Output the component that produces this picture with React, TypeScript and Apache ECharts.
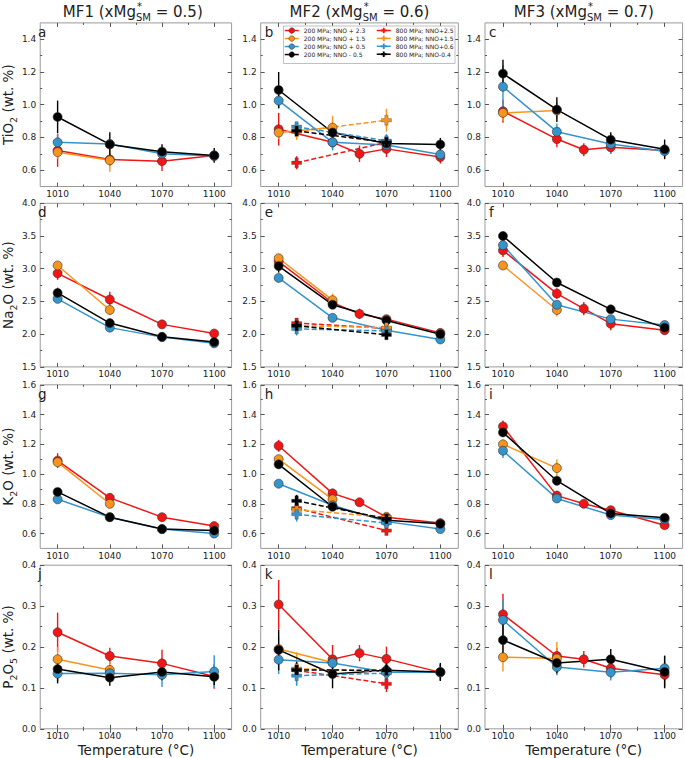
import React, { useEffect, useRef } from 'react';
import * as echarts from 'echarts';

// ---------- axis ticks / labels ----------
const TEMP_MAJOR = [1010, 1040, 1070, 1100];
const TEMP_MINOR = [1025, 1055, 1085];
const TEMP_MIN = 1000;
const TEMP_MAX = 1110;

const ROW_RANGES = [[0.5, 1.5], [1.5, 4.0], [0.5, 1.6], [0.0, 0.4]];
const ROW_MAJOR = [
  [0.6, 0.8, 1.0, 1.2, 1.4],
  [1.5, 2.0, 2.5, 3.0, 3.5, 4.0],
  [0.6, 0.8, 1.0, 1.2, 1.4, 1.6],
  [0.0, 0.1, 0.2, 0.3, 0.4],
];
const ROW_MINOR = [
  [0.7, 0.9, 1.1, 1.3],
  [1.75, 2.25, 2.75, 3.25, 3.75],
  [0.7, 0.9, 1.1, 1.3, 1.5],
  [0.05, 0.15, 0.25, 0.35],
];
const ROW_NAMES = [
  '{m|TiO}{s|2}{m| (wt. %)}',
  '{m|Na}{s|2}{m|O (wt. %)}',
  '{m|K}{s|2}{m|O (wt. %)}',
  '{m|P}{s|2}{m|O}{s|5}{m| (wt. %)}',
];
const COLUMN_TITLES = [
  ['MF1', '0.5'],
  ['MF2', '0.6'],
  ['MF3', '0.7'],
];
const PANEL_LETTERS = ['a', 'b', 'c', 'd', 'e', 'f', 'g', 'h', 'i', 'j', 'k', 'l'];

const NAMES_200 = ['200 MPa; NNO + 2.3', '200 MPa; NNO + 1.5', '200 MPa; NNO + 0.5', '200 MPa; NNO - 0.5'];
const NAMES_800 = ['800 MPa; NNO+2.5', '800 MPa; NNO+1.5', '800 MPa; NNO+0.6', '800 MPa; NNO-0.4'];
const COLORS = ['#f01616', '#f7941d', '#3594cc', '#000000'];

// ---------- data: [temperature, value, error] ----------
// TiO2
const a_red = [[1010, 0.72, 0.1], [1040, 0.665, 0.04], [1070, 0.655, 0.06], [1100, 0.69, 0.03]];
const a_orange = [[1010, 0.71, 0.04], [1040, 0.66, 0.07]];
const a_blue = [[1010, 0.77, 0.05], [1040, 0.76, 0.03], [1070, 0.7, 0.03], [1100, 0.686, 0.03]];
const a_black = [[1010, 0.925, 0.1], [1040, 0.757, 0.075], [1070, 0.713, 0.045], [1100, 0.69, 0.045]];

const b_red = [[1010, 0.85, 0.1], [1040, 0.77, 0.04], [1055, 0.7, 0.05], [1070, 0.73, 0.05], [1100, 0.68, 0.04]];
const b_orange = [[1010, 0.83, 0.04], [1040, 0.86, 0.07]];
const b_blue = [[1010, 1.025, 0.05], [1040, 0.77, 0.05], [1070, 0.753, 0.04], [1100, 0.696, 0.04]];
const b_black = [[1010, 1.09, 0.11], [1040, 0.83, 0.04], [1070, 0.763, 0.04], [1100, 0.757, 0.04]];
const b_red800 = [[1020, 0.645, 0.04], [1070, 0.77, 0.04]];
const b_orange800 = [[1020, 0.835, 0.05], [1070, 0.905, 0.07]];
const b_blue800 = [[1020, 0.865, 0.03], [1070, 0.78, 0.04]];
const b_black800 = [[1020, 0.84, 0.03], [1070, 0.77, 0.03]];

const c_red = [[1010, 0.96, 0.07], [1040, 0.79, 0.05], [1055, 0.725, 0.04], [1070, 0.74, 0.04], [1100, 0.72, 0.03]];
const c_orange = [[1010, 0.95, 0.05], [1040, 0.965, 0.05]];
const c_blue = [[1010, 1.11, 0.13], [1040, 0.835, 0.05], [1070, 0.76, 0.06], [1100, 0.716, 0.04]];
const c_black = [[1010, 1.19, 0.085], [1040, 0.97, 0.075], [1070, 0.786, 0.045], [1100, 0.727, 0.06]];

// Na2O
const d_red = [[1010, 2.93, 0.1], [1040, 2.53, 0.12], [1070, 2.15, 0.04], [1100, 2.01, 0.05]];
const d_orange = [[1010, 3.05, 0.05], [1040, 2.37, 0.08]];
const d_blue = [[1010, 2.54, 0.04], [1040, 2.1, 0.04], [1070, 1.955, 0.03], [1100, 1.86, 0.04]];
const d_black = [[1010, 2.63, 0.08], [1040, 2.17, 0.05], [1070, 1.96, 0.04], [1100, 1.88, 0.04]];

const e_red = [[1010, 3.11, 0.07], [1040, 2.48, 0.06], [1055, 2.31, 0.08], [1070, 2.23, 0.06], [1100, 2.02, 0.06]];
const e_orange = [[1010, 3.16, 0.05], [1040, 2.52, 0.1]];
const e_blue = [[1010, 2.86, 0.05], [1040, 2.25, 0.04], [1070, 2.06, 0.04], [1100, 1.92, 0.04]];
const e_black = [[1010, 3.04, 0.1], [1040, 2.45, 0.04], [1070, 2.21, 0.05], [1100, 2.0, 0.04]];
const e_red800 = [[1020, 2.17, 0.07], [1070, 2.09, 0.05]];
const e_orange800 = [[1020, 2.13, 0.05], [1070, 2.1, 0.05]];
const e_blue800 = [[1020, 2.08, 0.1], [1070, 2.05, 0.05]];
const e_black800 = [[1020, 2.13, 0.05], [1070, 1.99, 0.06]];

const f_red = [[1010, 3.28, 0.1], [1040, 2.62, 0.08], [1055, 2.39, 0.1], [1070, 2.16, 0.1], [1100, 2.06, 0.04]];
const f_orange = [[1010, 3.05, 0.05], [1040, 2.37, 0.1]];
const f_blue = [[1010, 3.36, 0.05], [1040, 2.45, 0.05], [1070, 2.23, 0.05], [1100, 2.14, 0.04]];
const f_black = [[1010, 3.5, 0.07], [1040, 2.79, 0.04], [1070, 2.38, 0.04], [1100, 2.1, 0.04]];

// K2O
const g_red = [[1010, 1.09, 0.05], [1040, 0.84, 0.03], [1070, 0.71, 0.02], [1100, 0.65, 0.02]];
const g_orange = [[1010, 1.08, 0.03], [1040, 0.8, 0.03]];
const g_blue = [[1010, 0.83, 0.02], [1040, 0.71, 0.02], [1070, 0.63, 0.02], [1100, 0.6, 0.02]];
const g_black = [[1010, 0.88, 0.02], [1040, 0.71, 0.02], [1070, 0.63, 0.02], [1100, 0.62, 0.02]];

const h_red = [[1010, 1.19, 0.04], [1040, 0.87, 0.03], [1055, 0.81, 0.02], [1070, 0.71, 0.02], [1100, 0.67, 0.02]];
const h_orange = [[1010, 1.1, 0.03], [1040, 0.83, 0.03]];
const h_blue = [[1010, 0.935, 0.02], [1040, 0.79, 0.02], [1070, 0.68, 0.02], [1100, 0.63, 0.02]];
const h_black = [[1010, 1.065, 0.03], [1040, 0.78, 0.02], [1070, 0.69, 0.02], [1100, 0.665, 0.02]];
const h_red800 = [[1020, 0.77, 0.03], [1070, 0.62, 0.03]];
const h_orange800 = [[1020, 0.76, 0.03], [1070, 0.71, 0.03]];
const h_blue800 = [[1020, 0.73, 0.05], [1070, 0.67, 0.03]];
const h_black800 = [[1020, 0.82, 0.04], [1070, 0.7, 0.03]];

const i_red = [[1010, 1.32, 0.04], [1040, 0.855, 0.03], [1055, 0.8, 0.02], [1070, 0.757, 0.02], [1100, 0.656, 0.02]];
const i_orange = [[1010, 1.2, 0.03], [1040, 1.04, 0.06]];
const i_blue = [[1010, 1.157, 0.05], [1040, 0.836, 0.03], [1070, 0.724, 0.02], [1100, 0.695, 0.02]];
const i_black = [[1010, 1.28, 0.03], [1040, 0.955, 0.03], [1070, 0.735, 0.02], [1100, 0.706, 0.02]];

// P2O5
const j_red = [[1010, 0.236, 0.048], [1040, 0.178, 0.02], [1070, 0.16, 0.033], [1100, 0.128, 0.03]];
const j_orange = [[1010, 0.17, 0.03], [1040, 0.144, 0.02]];
const j_blue = [[1010, 0.135, 0.02], [1040, 0.136, 0.02], [1070, 0.132, 0.03], [1100, 0.14, 0.04]];
const j_black = [[1010, 0.146, 0.035], [1040, 0.125, 0.02], [1070, 0.139, 0.02], [1100, 0.127, 0.02]];

const k_red = [[1010, 0.304, 0.06], [1040, 0.17, 0.035], [1055, 0.185, 0.02], [1070, 0.171, 0.03], [1100, 0.138, 0.02]];
const k_orange = [[1010, 0.195, 0.03], [1040, 0.162, 0.02]];
const k_blue = [[1010, 0.169, 0.035], [1040, 0.161, 0.02], [1070, 0.138, 0.02], [1100, 0.138, 0.02]];
const k_black = [[1010, 0.193, 0.05], [1040, 0.134, 0.035], [1070, 0.143, 0.02], [1100, 0.139, 0.022]];
const k_red800 = [[1020, 0.143, 0.02], [1070, 0.11, 0.02]];
const k_orange800 = [[1020, 0.147, 0.04], [1070, 0.14, 0.02]];
const k_blue800 = [[1020, 0.13, 0.025], [1070, 0.136, 0.02]];
const k_black800 = [[1020, 0.144, 0.02], [1070, 0.143, 0.02]];

const l_red = [[1010, 0.28, 0.05], [1040, 0.178, 0.02], [1055, 0.17, 0.02], [1070, 0.148, 0.025], [1100, 0.132, 0.03]];
const l_orange = [[1010, 0.175, 0.035], [1040, 0.172, 0.04]];
const l_blue = [[1010, 0.266, 0.05], [1040, 0.151, 0.02], [1070, 0.138, 0.02], [1100, 0.148, 0.03]];
const l_black = [[1010, 0.217, 0.04], [1040, 0.161, 0.025], [1070, 0.17, 0.025], [1100, 0.139, 0.04]];

const PANELS: { s200: number[][][]; s800?: number[][][] }[] = [
  { s200: [a_red, a_orange, a_blue, a_black] },
  { s200: [b_red, b_orange, b_blue, b_black], s800: [b_red800, b_orange800, b_blue800, b_black800] },
  { s200: [c_red, c_orange, c_blue, c_black] },
  { s200: [d_red, d_orange, d_blue, d_black] },
  { s200: [e_red, e_orange, e_blue, e_black], s800: [e_red800, e_orange800, e_blue800, e_black800] },
  { s200: [f_red, f_orange, f_blue, f_black] },
  { s200: [g_red, g_orange, g_blue, g_black] },
  { s200: [h_red, h_orange, h_blue, h_black], s800: [h_red800, h_orange800, h_blue800, h_black800] },
  { s200: [i_red, i_orange, i_blue, i_black] },
  { s200: [j_red, j_orange, j_blue, j_black] },
  { s200: [k_red, k_orange, k_blue, k_black], s800: [k_red800, k_orange800, k_blue800, k_black800] },
  { s200: [l_red, l_orange, l_blue, l_black] },
];

// ---------- layout ----------
const FONT = '"DejaVu Sans", sans-serif';
const COL_LEFT = [34, 260.7, 485];
const COL_WIDTH = 197.6;
const ROW_TOP = [22.9, 203.3, 384.8, 565.2];
const ROW_HEIGHT = 163.6;
const TEXT_COLOR = '#222';
const TICK_COLOR = '#555';
const FRAME_COLOR = '#9a9a9a';
const CROSS = 'path://M1,0L2,0L2,1L3,1L3,2L2,2L2,3L1,3L1,2L0,2L0,1L1,1Z';

function measure(text: string, size: number): number {
  const ctx = document.createElement('canvas').getContext('2d');
  if (!ctx) return text.length * size * 0.6;
  ctx.font = `${size}px "DejaVu Sans"`;
  return ctx.measureText(text).width;
}

function buildOption() {
  const grid: any[] = [];
  const xAxis: any[] = [];
  const yAxis: any[] = [];
  const series: any[] = [];
  const graphic: any[] = [];

  PANELS.forEach((panel, p) => {
    const row = Math.floor(p / 3);
    const col = p % 3;
    grid.push({
      left: COL_LEFT[col],
      top: ROW_TOP[row],
      width: COL_WIDTH,
      height: ROW_HEIGHT,
      show: true,
      borderColor: FRAME_COLOR,
      borderWidth: 1,
      backgroundColor: 'transparent',
    });
    const baseX = {
      type: 'value',
      gridIndex: p,
      min: TEMP_MIN,
      max: TEMP_MAX,
      splitLine: { show: false },
      axisLine: { show: false },
    };
    const isBottom = row === 3;
    xAxis.push({
      ...baseX,
      position: 'bottom',
      axisTick: { show: true, inside: true, length: 4, customValues: TEMP_MAJOR, lineStyle: { color: TICK_COLOR, width: 1 } },
      axisLabel: {
        show: true,
        customValues: TEMP_MAJOR,
        margin: 3,
        fontSize: 9,
        fontFamily: FONT,
        color: TEXT_COLOR,
        formatter: (v: number) => String(v),
      },
      name: isBottom ? 'Temperature (°C)' : '',
      nameLocation: 'middle',
      nameGap: 14,
      nameTextStyle: { fontSize: 13.5, fontFamily: FONT, color: TEXT_COLOR, verticalAlign: 'top' },
    });
    xAxis.push({
      ...baseX,
      position: 'bottom',
      axisTick: { show: true, inside: true, length: 2, customValues: TEMP_MINOR, lineStyle: { color: TICK_COLOR, width: 1 } },
      axisLabel: { show: false },
    });
    xAxis.push({
      ...baseX,
      position: 'top',
      axisTick: { show: true, inside: true, length: 4, customValues: TEMP_MAJOR, lineStyle: { color: TICK_COLOR, width: 1 } },
      axisLabel: { show: false },
    });
    xAxis.push({
      ...baseX,
      position: 'top',
      axisTick: { show: true, inside: true, length: 2, customValues: TEMP_MINOR, lineStyle: { color: TICK_COLOR, width: 1 } },
      axisLabel: { show: false },
    });

    const [ymin, ymax] = ROW_RANGES[row];
    const baseY = {
      type: 'value',
      gridIndex: p,
      min: ymin,
      max: ymax,
      splitLine: { show: false },
      axisLine: { show: false },
    };
    yAxis.push({
      ...baseY,
      position: 'left',
      axisTick: { show: true, inside: true, length: 4, customValues: ROW_MAJOR[row], lineStyle: { color: TICK_COLOR, width: 1 } },
      axisLabel: {
        show: true,
        customValues: ROW_MAJOR[row],
        showMinLabel: true,
        showMaxLabel: true,
        margin: 4,
        fontSize: 9,
        fontFamily: FONT,
        color: TEXT_COLOR,
        formatter: (v: number) => v.toFixed(1),
      },
      name: col === 0 ? ROW_NAMES[row] : '',
      nameLocation: 'middle',
      nameRotate: 90,
      nameGap: 17,
      nameTextStyle: {
        fontSize: 13.5,
        fontFamily: FONT,
        color: TEXT_COLOR,
        rich: {
          m: { fontSize: 13.5, fontFamily: FONT, color: TEXT_COLOR, lineHeight: 16, verticalAlign: 'bottom' },
          s: { fontSize: 9.5, fontFamily: FONT, color: TEXT_COLOR, lineHeight: 9, verticalAlign: 'bottom', padding: [0, 0, -3, 0] },
        },
      },
    });
    yAxis.push({
      ...baseY,
      position: 'left',
      axisTick: { show: true, inside: true, length: 2, customValues: ROW_MINOR[row], lineStyle: { color: TICK_COLOR, width: 1 } },
      axisLabel: { show: false },
    });
    yAxis.push({
      ...baseY,
      position: 'right',
      axisTick: { show: true, inside: true, length: 4, customValues: ROW_MAJOR[row], lineStyle: { color: TICK_COLOR, width: 1 } },
      axisLabel: { show: false },
    });
    yAxis.push({
      ...baseY,
      position: 'right',
      axisTick: { show: true, inside: true, length: 2, customValues: ROW_MINOR[row], lineStyle: { color: TICK_COLOR, width: 1 } },
      axisLabel: { show: false },
    });

    const addSeries = (data: number[][], name: string, color: string, dashed: boolean) => {
      series.push({
        type: 'custom',
        xAxisIndex: p * 4,
        yAxisIndex: p * 4,
        silent: true,
        clip: false,
        dimensions: ['t', 'v', 'e'],
        encode: { x: 0, y: 1 },
        data,
        renderItem: (_params: any, api: any) => {
          const x = api.value(0);
          const y = api.value(1);
          const e = api.value(2);
          const p1 = api.coord([x, y - e]);
          const p2 = api.coord([x, y + e]);
          return {
            type: 'line',
            shape: { x1: p1[0], y1: p1[1], x2: p2[0], y2: p2[1] },
            style: { stroke: color, lineWidth: 1.4 },
          };
        },
      });
      series.push({
        type: 'line',
        name,
        xAxisIndex: p * 4,
        yAxisIndex: p * 4,
        data: data.map((d) => [d[0], d[1]]),
        symbol: dashed ? CROSS : 'circle',
        symbolSize: dashed ? 10 : 9,
        showSymbol: true,
        lineStyle: { color, width: 1.5, type: dashed ? [5, 2.5] : 'solid' },
        itemStyle: { color, borderColor: '#333', borderWidth: dashed ? 0.3 : 0.6 },
        emphasis: { disabled: true },
        silent: true,
      });
    };
    panel.s200.forEach((d, k) => addSeries(d, NAMES_200[k], COLORS[k], false));
    if (panel.s800) panel.s800.forEach((d, k) => addSeries(d, NAMES_800[k], COLORS[k], true));

    graphic.push({
      type: 'text',
      x: COL_LEFT[col] + 4,
      y: ROW_TOP[row] + 2,
      style: {
        text: PANEL_LETTERS[p],
        font: `13.5px ${FONT}`,
        fill: TEXT_COLOR,
        align: 'left',
        verticalAlign: 'top',
        textAlign: 'left',
        textVerticalAlign: 'top',
      },
    });
  });

  // Column titles: MF# (xMg*_SM = v)
  COLUMN_TITLES.forEach(([mf, val], col) => {
    const cx = COL_LEFT[col] + COL_WIDTH / 2;
    const t1 = `${mf} (xMg`;
    const t3 = ` = ${val})`;
    const main = 15;
    const small = 10;
    const w1 = measure(t1, main);
    const ws = measure('SM', small);
    const w3 = measure(t3, main);
    const x0 = cx - (w1 + ws + w3) / 2;
    const cy = 12;
    const mk = (text: string, x: number, y: number, size: number) => ({
      type: 'text',
      x,
      y,
      style: {
        text,
        font: `${size}px ${FONT}`,
        fill: TEXT_COLOR,
        align: 'left',
        verticalAlign: 'middle',
        textAlign: 'left',
        textVerticalAlign: 'middle',
      },
    });
    graphic.push(mk(t1, x0, cy, main));
    graphic.push(mk('SM', x0 + w1, cy + 5.5, small));
    graphic.push(mk('*', x0 + w1 + 1, cy - 5.5, small));
    graphic.push(mk(t3, x0 + w1 + ws, cy, main));
  });

  // Legend frame (in panel b)
  graphic.push({
    type: 'rect',
    z: 10,
    shape: { x: 283.5, y: 26, width: 171.5, height: 37.5 },
    style: { fill: '#fff', stroke: '#b0b0b0', lineWidth: 0.8 },
  });

  const legendBase = {
    orient: 'vertical',
    top: 27.5,
    padding: 0,
    itemWidth: 14,
    itemHeight: 7,
    itemGap: 1.9,
    z: 11,
    selectedMode: false,
    textStyle: { fontSize: 6, fontFamily: FONT, color: TEXT_COLOR, padding: [0, 0, 0, 0] },
  };
  const legendData = (names: string[], cross: boolean) =>
    names.map((name, k) => ({
      name,
      itemStyle: { color: COLORS[k], borderColor: '#333', borderWidth: cross ? 0 : 0.5, opacity: 1 },
      lineStyle: { color: COLORS[k], width: 1.5, type: 'solid', opacity: 1 },
    }));

  return {
    animation: false,
    backgroundColor: '#ffffff',
    grid,
    xAxis,
    yAxis,
    series,
    graphic,
    legend: [
      { ...legendBase, left: 284, data: legendData(NAMES_200, false) },
      { ...legendBase, left: 376, data: legendData(NAMES_800, true) },
    ],
  };
}

export default function App() {
  const ref = useRef<HTMLDivElement>(null);
  useEffect(() => {
    if (!ref.current) return;
    const chart = echarts.init(ref.current, null, { renderer: 'svg' });
    chart.setOption(buildOption() as any);
    return () => {
      chart.dispose();
    };
  }, []);
  return (
    <div
      ref={ref}
      style={{ position: 'fixed', left: 0, top: 0, width: 685, height: 758, background: '#fff' }}
    />
  );
}
